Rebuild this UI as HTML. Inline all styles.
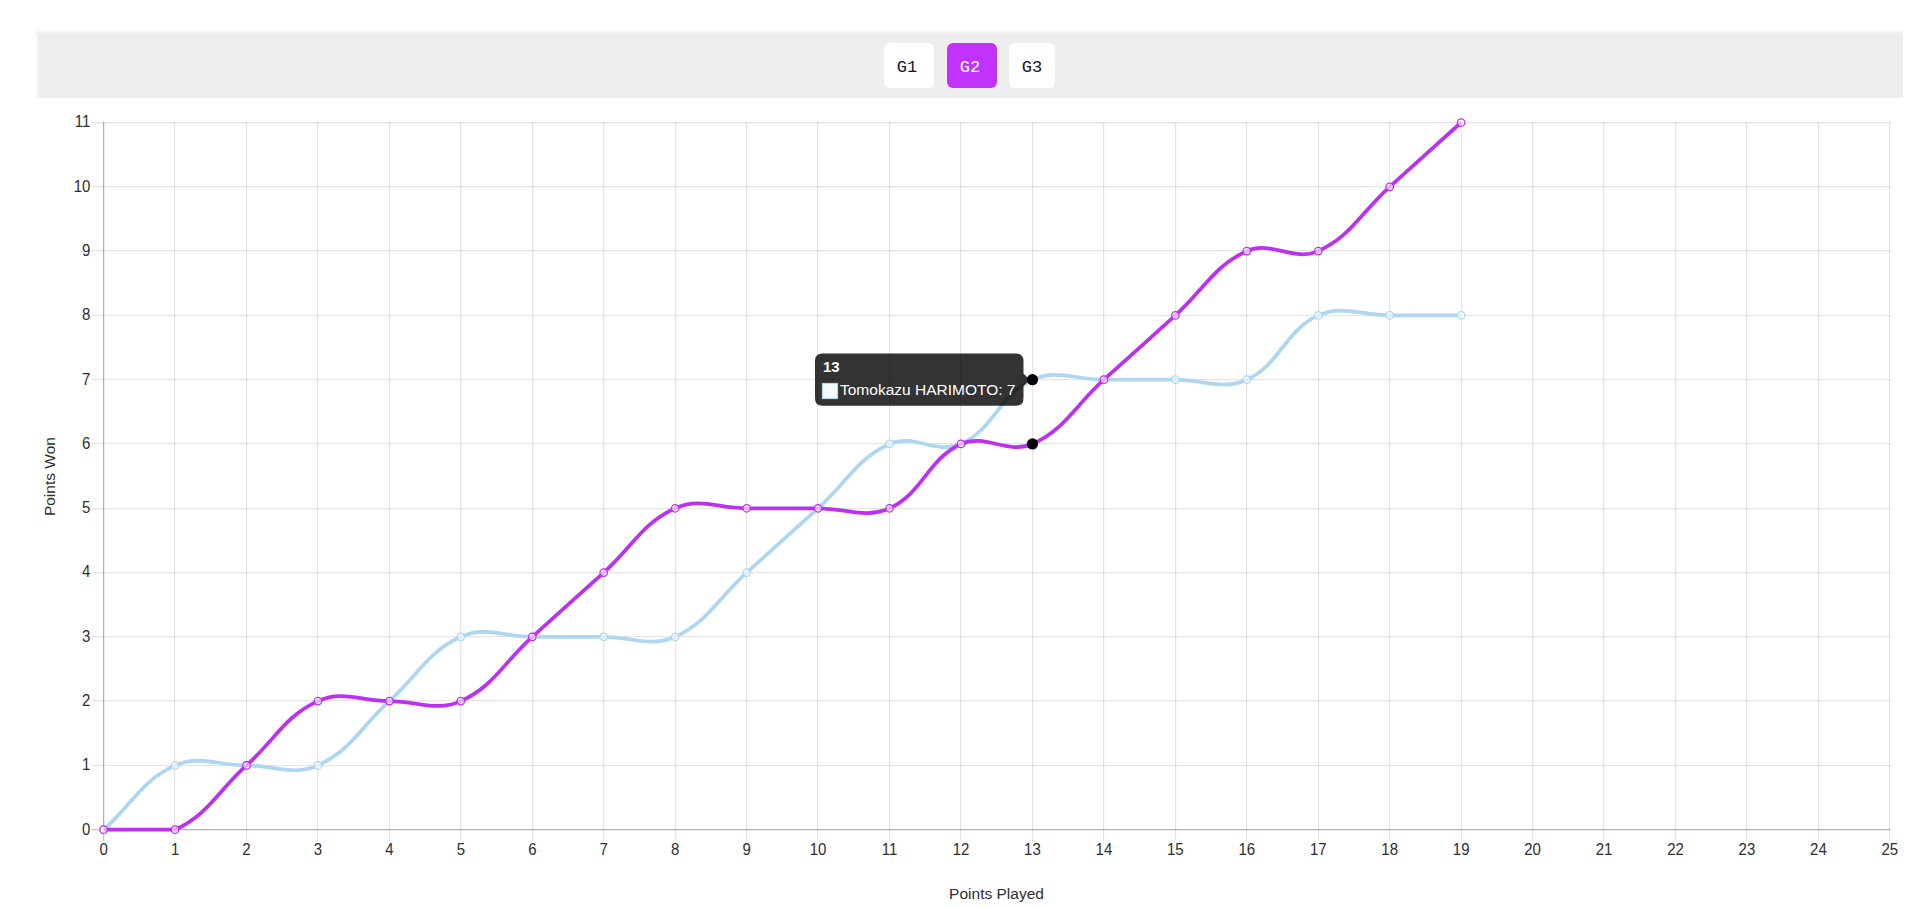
<!DOCTYPE html>
<html><head><meta charset="utf-8"><title>Points chart</title>
<style>
html,body{margin:0;padding:0;background:#fff;width:1932px;height:908px;overflow:hidden;}
body{position:relative;font-family:"Liberation Sans",sans-serif;}
.bar{position:absolute;left:35px;top:29px;width:1868px;height:69px;background:#eeeeee;
background-image:linear-gradient(to bottom,#fff 0px,#eee 5px),linear-gradient(to right,#fff 0px,#eee 4px);
background-size:100% 5px,4px 100%;background-repeat:no-repeat;}
.btn{position:absolute;top:43px;height:45px;border-radius:6px;background:#fff;color:#14142e;box-sizing:border-box;
font-family:"Liberation Mono",monospace;font-size:17px;line-height:49px;text-align:center;}
.btn.on{background:#c133fd;color:#fff;box-shadow:0 0 0 1px rgba(255,235,255,0.55);}
svg{position:absolute;left:0;top:0;}
.t{font-family:"Liberation Sans",sans-serif;font-size:15px;fill:#2e2e2e;}
.ax{font-size:15.5px;}
.tt{font-family:"Liberation Sans",sans-serif;font-size:15px;fill:#fff;}
.tb{font-size:15.5px;}
</style></head><body>
<div class="bar"></div>
<div class="btn" style="left:884px;width:50px;padding-right:4px">G1</div>
<div class="btn on" style="left:947px;width:50px;padding-right:4px">G2</div>
<div class="btn" style="left:1009px;width:46px;">G3</div>
<svg width="1932" height="908" viewBox="0 0 1932 908">
<line x1="103.62" y1="122.01" x2="103.62" y2="841.2" stroke="rgba(0,0,0,0.22)" stroke-width="1.25"/>
<line x1="174.62" y1="122.01" x2="174.62" y2="841.2" stroke="rgba(0,0,0,0.1)" stroke-width="1.25"/>
<line x1="246.62" y1="122.01" x2="246.62" y2="841.2" stroke="rgba(0,0,0,0.1)" stroke-width="1.25"/>
<line x1="317.62" y1="122.01" x2="317.62" y2="841.2" stroke="rgba(0,0,0,0.1)" stroke-width="1.25"/>
<line x1="389.62" y1="122.01" x2="389.62" y2="841.2" stroke="rgba(0,0,0,0.1)" stroke-width="1.25"/>
<line x1="460.62" y1="122.01" x2="460.62" y2="841.2" stroke="rgba(0,0,0,0.1)" stroke-width="1.25"/>
<line x1="532.62" y1="122.01" x2="532.62" y2="841.2" stroke="rgba(0,0,0,0.1)" stroke-width="1.25"/>
<line x1="603.62" y1="122.01" x2="603.62" y2="841.2" stroke="rgba(0,0,0,0.1)" stroke-width="1.25"/>
<line x1="675.62" y1="122.01" x2="675.62" y2="841.2" stroke="rgba(0,0,0,0.1)" stroke-width="1.25"/>
<line x1="746.62" y1="122.01" x2="746.62" y2="841.2" stroke="rgba(0,0,0,0.1)" stroke-width="1.25"/>
<line x1="817.62" y1="122.01" x2="817.62" y2="841.2" stroke="rgba(0,0,0,0.1)" stroke-width="1.25"/>
<line x1="889.62" y1="122.01" x2="889.62" y2="841.2" stroke="rgba(0,0,0,0.1)" stroke-width="1.25"/>
<line x1="960.62" y1="122.01" x2="960.62" y2="841.2" stroke="rgba(0,0,0,0.1)" stroke-width="1.25"/>
<line x1="1032.62" y1="122.01" x2="1032.62" y2="841.2" stroke="rgba(0,0,0,0.1)" stroke-width="1.25"/>
<line x1="1103.62" y1="122.01" x2="1103.62" y2="841.2" stroke="rgba(0,0,0,0.1)" stroke-width="1.25"/>
<line x1="1175.62" y1="122.01" x2="1175.62" y2="841.2" stroke="rgba(0,0,0,0.1)" stroke-width="1.25"/>
<line x1="1246.62" y1="122.01" x2="1246.62" y2="841.2" stroke="rgba(0,0,0,0.1)" stroke-width="1.25"/>
<line x1="1318.62" y1="122.01" x2="1318.62" y2="841.2" stroke="rgba(0,0,0,0.1)" stroke-width="1.25"/>
<line x1="1389.62" y1="122.01" x2="1389.62" y2="841.2" stroke="rgba(0,0,0,0.1)" stroke-width="1.25"/>
<line x1="1461.62" y1="122.01" x2="1461.62" y2="841.2" stroke="rgba(0,0,0,0.1)" stroke-width="1.25"/>
<line x1="1532.62" y1="122.01" x2="1532.62" y2="841.2" stroke="rgba(0,0,0,0.1)" stroke-width="1.25"/>
<line x1="1603.62" y1="122.01" x2="1603.62" y2="841.2" stroke="rgba(0,0,0,0.1)" stroke-width="1.25"/>
<line x1="1675.62" y1="122.01" x2="1675.62" y2="841.2" stroke="rgba(0,0,0,0.1)" stroke-width="1.25"/>
<line x1="1746.62" y1="122.01" x2="1746.62" y2="841.2" stroke="rgba(0,0,0,0.1)" stroke-width="1.25"/>
<line x1="1818.62" y1="122.01" x2="1818.62" y2="841.2" stroke="rgba(0,0,0,0.1)" stroke-width="1.25"/>
<line x1="1889.62" y1="122.01" x2="1889.62" y2="841.2" stroke="rgba(0,0,0,0.1)" stroke-width="1.25"/>
<line x1="91.3" y1="829.62" x2="1890.45" y2="829.62" stroke="rgba(0,0,0,0.22)" stroke-width="1.25"/>
<line x1="91.3" y1="765.62" x2="1890.45" y2="765.62" stroke="rgba(0,0,0,0.1)" stroke-width="1.25"/>
<line x1="91.3" y1="700.62" x2="1890.45" y2="700.62" stroke="rgba(0,0,0,0.1)" stroke-width="1.25"/>
<line x1="91.3" y1="636.62" x2="1890.45" y2="636.62" stroke="rgba(0,0,0,0.1)" stroke-width="1.25"/>
<line x1="91.3" y1="572.62" x2="1890.45" y2="572.62" stroke="rgba(0,0,0,0.1)" stroke-width="1.25"/>
<line x1="91.3" y1="508.62" x2="1890.45" y2="508.62" stroke="rgba(0,0,0,0.1)" stroke-width="1.25"/>
<line x1="91.3" y1="443.62" x2="1890.45" y2="443.62" stroke="rgba(0,0,0,0.1)" stroke-width="1.25"/>
<line x1="91.3" y1="379.62" x2="1890.45" y2="379.62" stroke="rgba(0,0,0,0.1)" stroke-width="1.25"/>
<line x1="91.3" y1="315.62" x2="1890.45" y2="315.62" stroke="rgba(0,0,0,0.1)" stroke-width="1.25"/>
<line x1="91.3" y1="250.62" x2="1890.45" y2="250.62" stroke="rgba(0,0,0,0.1)" stroke-width="1.25"/>
<line x1="91.3" y1="186.62" x2="1890.45" y2="186.62" stroke="rgba(0,0,0,0.1)" stroke-width="1.25"/>
<line x1="91.3" y1="122.62" x2="1890.45" y2="122.62" stroke="rgba(0,0,0,0.1)" stroke-width="1.25"/>
<line x1="103.625" y1="122.01" x2="103.625" y2="830.3" stroke="rgba(0,0,0,0.1)" stroke-width="1.25"/>
<line x1="103" y1="829.625" x2="1890.45" y2="829.625" stroke="rgba(0,0,0,0.1)" stroke-width="1.25"/>
<text transform="translate(103.6 855) scale(1 1.05)" text-anchor="middle" class="t">0</text>
<text transform="translate(175.05 855) scale(1 1.05)" text-anchor="middle" class="t">1</text>
<text transform="translate(246.5 855) scale(1 1.05)" text-anchor="middle" class="t">2</text>
<text transform="translate(317.95 855) scale(1 1.05)" text-anchor="middle" class="t">3</text>
<text transform="translate(389.4 855) scale(1 1.05)" text-anchor="middle" class="t">4</text>
<text transform="translate(460.85 855) scale(1 1.05)" text-anchor="middle" class="t">5</text>
<text transform="translate(532.3 855) scale(1 1.05)" text-anchor="middle" class="t">6</text>
<text transform="translate(603.75 855) scale(1 1.05)" text-anchor="middle" class="t">7</text>
<text transform="translate(675.2 855) scale(1 1.05)" text-anchor="middle" class="t">8</text>
<text transform="translate(746.65 855) scale(1 1.05)" text-anchor="middle" class="t">9</text>
<text transform="translate(818.1 855) scale(1 1.05)" text-anchor="middle" class="t">10</text>
<text transform="translate(889.55 855) scale(1 1.05)" text-anchor="middle" class="t">11</text>
<text transform="translate(961 855) scale(1 1.05)" text-anchor="middle" class="t">12</text>
<text transform="translate(1032.45 855) scale(1 1.05)" text-anchor="middle" class="t">13</text>
<text transform="translate(1103.9 855) scale(1 1.05)" text-anchor="middle" class="t">14</text>
<text transform="translate(1175.35 855) scale(1 1.05)" text-anchor="middle" class="t">15</text>
<text transform="translate(1246.8 855) scale(1 1.05)" text-anchor="middle" class="t">16</text>
<text transform="translate(1318.25 855) scale(1 1.05)" text-anchor="middle" class="t">17</text>
<text transform="translate(1389.7 855) scale(1 1.05)" text-anchor="middle" class="t">18</text>
<text transform="translate(1461.15 855) scale(1 1.05)" text-anchor="middle" class="t">19</text>
<text transform="translate(1532.6 855) scale(1 1.05)" text-anchor="middle" class="t">20</text>
<text transform="translate(1604.05 855) scale(1 1.05)" text-anchor="middle" class="t">21</text>
<text transform="translate(1675.5 855) scale(1 1.05)" text-anchor="middle" class="t">22</text>
<text transform="translate(1746.95 855) scale(1 1.05)" text-anchor="middle" class="t">23</text>
<text transform="translate(1818.4 855) scale(1 1.05)" text-anchor="middle" class="t">24</text>
<text transform="translate(1889.85 855) scale(1 1.05)" text-anchor="middle" class="t">25</text>
<text transform="translate(90.4 834.6) scale(1 1.05)" text-anchor="end" class="t">0</text>
<text transform="translate(90.4 770.31) scale(1 1.05)" text-anchor="end" class="t">1</text>
<text transform="translate(90.4 706.02) scale(1 1.05)" text-anchor="end" class="t">2</text>
<text transform="translate(90.4 641.73) scale(1 1.05)" text-anchor="end" class="t">3</text>
<text transform="translate(90.4 577.44) scale(1 1.05)" text-anchor="end" class="t">4</text>
<text transform="translate(90.4 513.15) scale(1 1.05)" text-anchor="end" class="t">5</text>
<text transform="translate(90.4 448.86) scale(1 1.05)" text-anchor="end" class="t">6</text>
<text transform="translate(90.4 384.57) scale(1 1.05)" text-anchor="end" class="t">7</text>
<text transform="translate(90.4 320.28) scale(1 1.05)" text-anchor="end" class="t">8</text>
<text transform="translate(90.4 255.99) scale(1 1.05)" text-anchor="end" class="t">9</text>
<text transform="translate(90.4 191.7) scale(1 1.05)" text-anchor="end" class="t">10</text>
<text transform="translate(90.4 127.41) scale(1 1.05)" text-anchor="end" class="t">11</text>
<text x="996.5" y="899" text-anchor="middle" class="t ax">Points Played</text>
<text transform="translate(55.3 476.6) rotate(-90)" text-anchor="middle" class="t ax">Points Won</text>
<path d="M103.60 829.70 C132.18 803.98 142.26 780.16 175.05 765.41 C199.42 754.44 217.92 765.41 246.50 765.41 C275.08 765.41 293.58 776.38 317.95 765.41 C350.74 750.66 360.82 726.84 389.40 701.12 C417.98 675.40 428.06 651.58 460.85 636.83 C485.22 625.86 503.72 636.83 532.30 636.83 C560.88 636.83 575.17 636.83 603.75 636.83 C632.33 636.83 650.83 647.80 675.20 636.83 C707.99 622.08 718.07 598.26 746.65 572.54 C775.23 546.82 789.52 533.97 818.10 508.25 C846.68 482.53 856.76 458.71 889.55 443.96 C913.92 432.99 936.63 454.93 961.00 443.96 C993.79 429.21 999.66 394.42 1032.45 379.67 C1056.82 368.70 1075.32 379.67 1103.90 379.67 C1132.48 379.67 1146.77 379.67 1175.35 379.67 C1203.93 379.67 1222.43 390.64 1246.80 379.67 C1279.59 364.92 1285.46 330.13 1318.25 315.38 C1342.62 304.41 1361.12 315.38 1389.70 315.38 C1418.28 315.38 1432.57 315.38 1461.15 315.38" fill="none" stroke="#aed6f1" stroke-width="3.75" stroke-linejoin="round"/>
<circle cx="103.6" cy="829.7" r="3.75" fill="#fff" fill-opacity="0.6" stroke="#aed6f1" stroke-width="1.25"/>
<circle cx="175.05" cy="765.41" r="3.75" fill="#fff" fill-opacity="0.6" stroke="#aed6f1" stroke-width="1.25"/>
<circle cx="246.5" cy="765.41" r="3.75" fill="#fff" fill-opacity="0.6" stroke="#aed6f1" stroke-width="1.25"/>
<circle cx="317.95" cy="765.41" r="3.75" fill="#fff" fill-opacity="0.6" stroke="#aed6f1" stroke-width="1.25"/>
<circle cx="389.4" cy="701.12" r="3.75" fill="#fff" fill-opacity="0.6" stroke="#aed6f1" stroke-width="1.25"/>
<circle cx="460.85" cy="636.83" r="3.75" fill="#fff" fill-opacity="0.6" stroke="#aed6f1" stroke-width="1.25"/>
<circle cx="532.3" cy="636.83" r="3.75" fill="#fff" fill-opacity="0.6" stroke="#aed6f1" stroke-width="1.25"/>
<circle cx="603.75" cy="636.83" r="3.75" fill="#fff" fill-opacity="0.6" stroke="#aed6f1" stroke-width="1.25"/>
<circle cx="675.2" cy="636.83" r="3.75" fill="#fff" fill-opacity="0.6" stroke="#aed6f1" stroke-width="1.25"/>
<circle cx="746.65" cy="572.54" r="3.75" fill="#fff" fill-opacity="0.6" stroke="#aed6f1" stroke-width="1.25"/>
<circle cx="818.1" cy="508.25" r="3.75" fill="#fff" fill-opacity="0.6" stroke="#aed6f1" stroke-width="1.25"/>
<circle cx="889.55" cy="443.96" r="3.75" fill="#fff" fill-opacity="0.6" stroke="#aed6f1" stroke-width="1.25"/>
<circle cx="961" cy="443.96" r="3.75" fill="#fff" fill-opacity="0.6" stroke="#aed6f1" stroke-width="1.25"/>
<circle cx="1032.45" cy="379.67" r="3.75" fill="#fff" fill-opacity="0.6" stroke="#aed6f1" stroke-width="1.25"/>
<circle cx="1103.9" cy="379.67" r="3.75" fill="#fff" fill-opacity="0.6" stroke="#aed6f1" stroke-width="1.25"/>
<circle cx="1175.35" cy="379.67" r="3.75" fill="#fff" fill-opacity="0.6" stroke="#aed6f1" stroke-width="1.25"/>
<circle cx="1246.8" cy="379.67" r="3.75" fill="#fff" fill-opacity="0.6" stroke="#aed6f1" stroke-width="1.25"/>
<circle cx="1318.25" cy="315.38" r="3.75" fill="#fff" fill-opacity="0.6" stroke="#aed6f1" stroke-width="1.25"/>
<circle cx="1389.7" cy="315.38" r="3.75" fill="#fff" fill-opacity="0.6" stroke="#aed6f1" stroke-width="1.25"/>
<circle cx="1461.15" cy="315.38" r="3.75" fill="#fff" fill-opacity="0.6" stroke="#aed6f1" stroke-width="1.25"/>
<path d="M103.60 829.70 C132.18 829.70 150.68 829.70 175.05 829.70 C207.84 814.95 217.92 791.13 246.50 765.41 C275.08 739.69 285.16 715.87 317.95 701.12 C342.32 690.15 360.82 701.12 389.40 701.12 C417.98 701.12 436.48 712.09 460.85 701.12 C493.64 686.37 503.72 662.55 532.30 636.83 C560.88 611.11 575.17 598.26 603.75 572.54 C632.33 546.82 642.41 523.00 675.20 508.25 C699.57 497.28 718.07 508.25 746.65 508.25 C775.23 508.25 789.52 508.25 818.10 508.25 C846.68 508.25 865.18 519.22 889.55 508.25 C922.34 493.50 928.21 458.71 961.00 443.96 C985.37 432.99 1008.08 454.93 1032.45 443.96 C1065.24 429.21 1075.32 405.39 1103.90 379.67 C1132.48 353.95 1146.77 341.10 1175.35 315.38 C1203.93 289.66 1214.01 265.84 1246.80 251.09 C1271.17 240.12 1293.88 262.06 1318.25 251.09 C1351.04 236.34 1361.12 212.52 1389.70 186.80 C1418.28 161.08 1432.57 148.23 1461.15 122.51" fill="none" stroke="#bb31f0" stroke-width="3.75" stroke-linejoin="round"/>
<circle cx="103.6" cy="829.7" r="3.75" fill="#fff" fill-opacity="0.6" stroke="#bb31f0" stroke-width="1.25"/>
<circle cx="175.05" cy="829.7" r="3.75" fill="#fff" fill-opacity="0.6" stroke="#bb31f0" stroke-width="1.25"/>
<circle cx="246.5" cy="765.41" r="3.75" fill="#fff" fill-opacity="0.6" stroke="#bb31f0" stroke-width="1.25"/>
<circle cx="317.95" cy="701.12" r="3.75" fill="#fff" fill-opacity="0.6" stroke="#bb31f0" stroke-width="1.25"/>
<circle cx="389.4" cy="701.12" r="3.75" fill="#fff" fill-opacity="0.6" stroke="#bb31f0" stroke-width="1.25"/>
<circle cx="460.85" cy="701.12" r="3.75" fill="#fff" fill-opacity="0.6" stroke="#bb31f0" stroke-width="1.25"/>
<circle cx="532.3" cy="636.83" r="3.75" fill="#fff" fill-opacity="0.6" stroke="#bb31f0" stroke-width="1.25"/>
<circle cx="603.75" cy="572.54" r="3.75" fill="#fff" fill-opacity="0.6" stroke="#bb31f0" stroke-width="1.25"/>
<circle cx="675.2" cy="508.25" r="3.75" fill="#fff" fill-opacity="0.6" stroke="#bb31f0" stroke-width="1.25"/>
<circle cx="746.65" cy="508.25" r="3.75" fill="#fff" fill-opacity="0.6" stroke="#bb31f0" stroke-width="1.25"/>
<circle cx="818.1" cy="508.25" r="3.75" fill="#fff" fill-opacity="0.6" stroke="#bb31f0" stroke-width="1.25"/>
<circle cx="889.55" cy="508.25" r="3.75" fill="#fff" fill-opacity="0.6" stroke="#bb31f0" stroke-width="1.25"/>
<circle cx="961" cy="443.96" r="3.75" fill="#fff" fill-opacity="0.6" stroke="#bb31f0" stroke-width="1.25"/>
<circle cx="1032.45" cy="443.96" r="3.75" fill="#fff" fill-opacity="0.6" stroke="#bb31f0" stroke-width="1.25"/>
<circle cx="1103.9" cy="379.67" r="3.75" fill="#fff" fill-opacity="0.6" stroke="#bb31f0" stroke-width="1.25"/>
<circle cx="1175.35" cy="315.38" r="3.75" fill="#fff" fill-opacity="0.6" stroke="#bb31f0" stroke-width="1.25"/>
<circle cx="1246.8" cy="251.09" r="3.75" fill="#fff" fill-opacity="0.6" stroke="#bb31f0" stroke-width="1.25"/>
<circle cx="1318.25" cy="251.09" r="3.75" fill="#fff" fill-opacity="0.6" stroke="#bb31f0" stroke-width="1.25"/>
<circle cx="1389.7" cy="186.8" r="3.75" fill="#fff" fill-opacity="0.6" stroke="#bb31f0" stroke-width="1.25"/>
<circle cx="1461.15" cy="122.51" r="3.75" fill="#fff" fill-opacity="0.6" stroke="#bb31f0" stroke-width="1.25"/>
<circle cx="1032.45" cy="379.67" r="5" fill="#000" stroke="#000" stroke-width="1.25"/>
<circle cx="1032.45" cy="443.96" r="5" fill="#000" stroke="#000" stroke-width="1.25"/>
<path d="M822.5 353.5 H1016 Q1023.5 353.5 1023.5 361 V373.42 L1029.75 379.67 L1023.5 385.92 V398.3 Q1023.5 405.8 1016 405.8 H822.5 Q815 405.8 815 398.3 V361 Q815 353.5 822.5 353.5 Z" fill="rgba(0,0,0,0.8)"/>
<text x="823" y="372" class="tt" font-weight="bold">13</text>
<rect x="822.5" y="383.5" width="15" height="15" fill="#fff" stroke="#aed6f1" stroke-width="1.25"/>
<rect x="823.75" y="384.75" width="12.5" height="12.5" fill="rgba(174,214,241,0.12)"/>
<text x="840" y="395.3" class="tt tb">Tomokazu HARIMOTO: 7</text>
</svg>
</body></html>
